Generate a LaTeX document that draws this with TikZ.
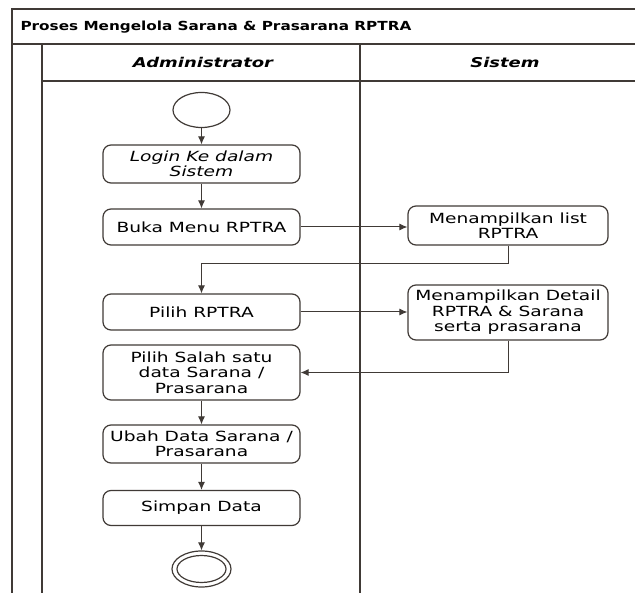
\documentclass[tikz,border=0pt]{standalone}
\usepackage{fontspec}
\setmainfont{DejaVu Sans}[FakeStretch=1.33]
\newfontfamily\headingfont{DejaVu Sans}[FakeStretch=1.22]
\usetikzlibrary{arrows.meta,shapes.geometric}
\definecolor{lineclr}{RGB}{64,58,54}
\begin{document}
\begin{tikzpicture}[x=1pt,y=-1pt,
  frame/.style={draw=lineclr,line width=2pt},
  act/.style={draw=lineclr,line width=1.2pt,rounded corners=8pt,fill=white,
    align=center,font=\fontsize{14}{15.5}\selectfont,inner sep=0pt,
    minimum width=197pt},
  sysact/.style={act,minimum width=200pt},
  flow/.style={draw=lineclr,line width=1pt,-{Latex[length=8pt,width=7pt]}},
  lanehead/.style={font=\bfseries\itshape\fontsize{13.5}{15}\selectfont},
  terminal/.style={ellipse,draw=lineclr,line width=1.2pt,inner sep=0pt}]
\useasboundingbox (0,0) rectangle (635,593);

% swimlane frame
\draw[frame] (635,9) -- (12,9) -- (12,593);
\draw[frame] (12,44) -- (635,44);
\draw[frame] (42,44) -- (42,593);
\draw[frame] (42,81) -- (635,81);
\draw[frame] (360,44) -- (360,593);

\node[anchor=west,font=\headingfont\bfseries\fontsize{12.5}{14}\selectfont] (title) at (17,27)
  {Proses Mengelola Sarana \& Prasarana RPTRA};
\node[lanehead] (admin) at (203,62) {Administrator};
\node[lanehead] (sys) at (505,62) {Sistem};

% activities
\node[terminal,minimum width=57pt,minimum height=35pt] (start) at (201.5,110) {};
\node[act,minimum height=38pt,font=\itshape\fontsize{14}{15.5}\selectfont] (login) at (201.5,164)
  {Login Ke dalam\\Sistem};
\node[act,minimum height=36pt] (buka) at (201.5,227) {Buka Menu RPTRA};
\node[sysact,minimum height=39pt] (list) at (508,225.5) {Menampilkan list\\RPTRA};
\node[act,minimum height=36pt] (pilih) at (201.5,312) {Pilih RPTRA};
\node[sysact,minimum height=55pt] (detail) at (508,312.5)
  {Menampilkan Detail\\RPTRA \& Sarana\\serta prasarana};
\node[act,minimum height=55pt] (salah) at (201.5,372.5)
  {Pilih Salah satu\\data Sarana /\\Prasarana};
\node[act,minimum height=38pt] (ubah) at (201.5,444) {Ubah Data Sarana /\\Prasarana};
\node[act,minimum height=35pt] (simpan) at (201.5,508) {Simpan Data};
\node[terminal,minimum width=59pt,minimum height=36pt] (stop) at (201.5,569) {};
\node[terminal,minimum width=49pt,minimum height=27pt] (stopin) at (stop) {};

% control flow
\draw[flow] (start) -- (login);
\draw[flow] (login) -- (buka);
\draw[flow] (buka.east) -- (list.west |- buka.east);
\draw[flow] (list.south) -- ++(0,18) -| (pilih.north);
\draw[flow] (pilih.east) -- (detail.west |- pilih.east);
\draw[flow] (detail.south) |- (salah.east);
\draw[flow] (salah) -- (ubah);
\draw[flow] (ubah) -- (simpan);
\draw[flow] (simpan) -- (stop);
\end{tikzpicture}
\end{document}
